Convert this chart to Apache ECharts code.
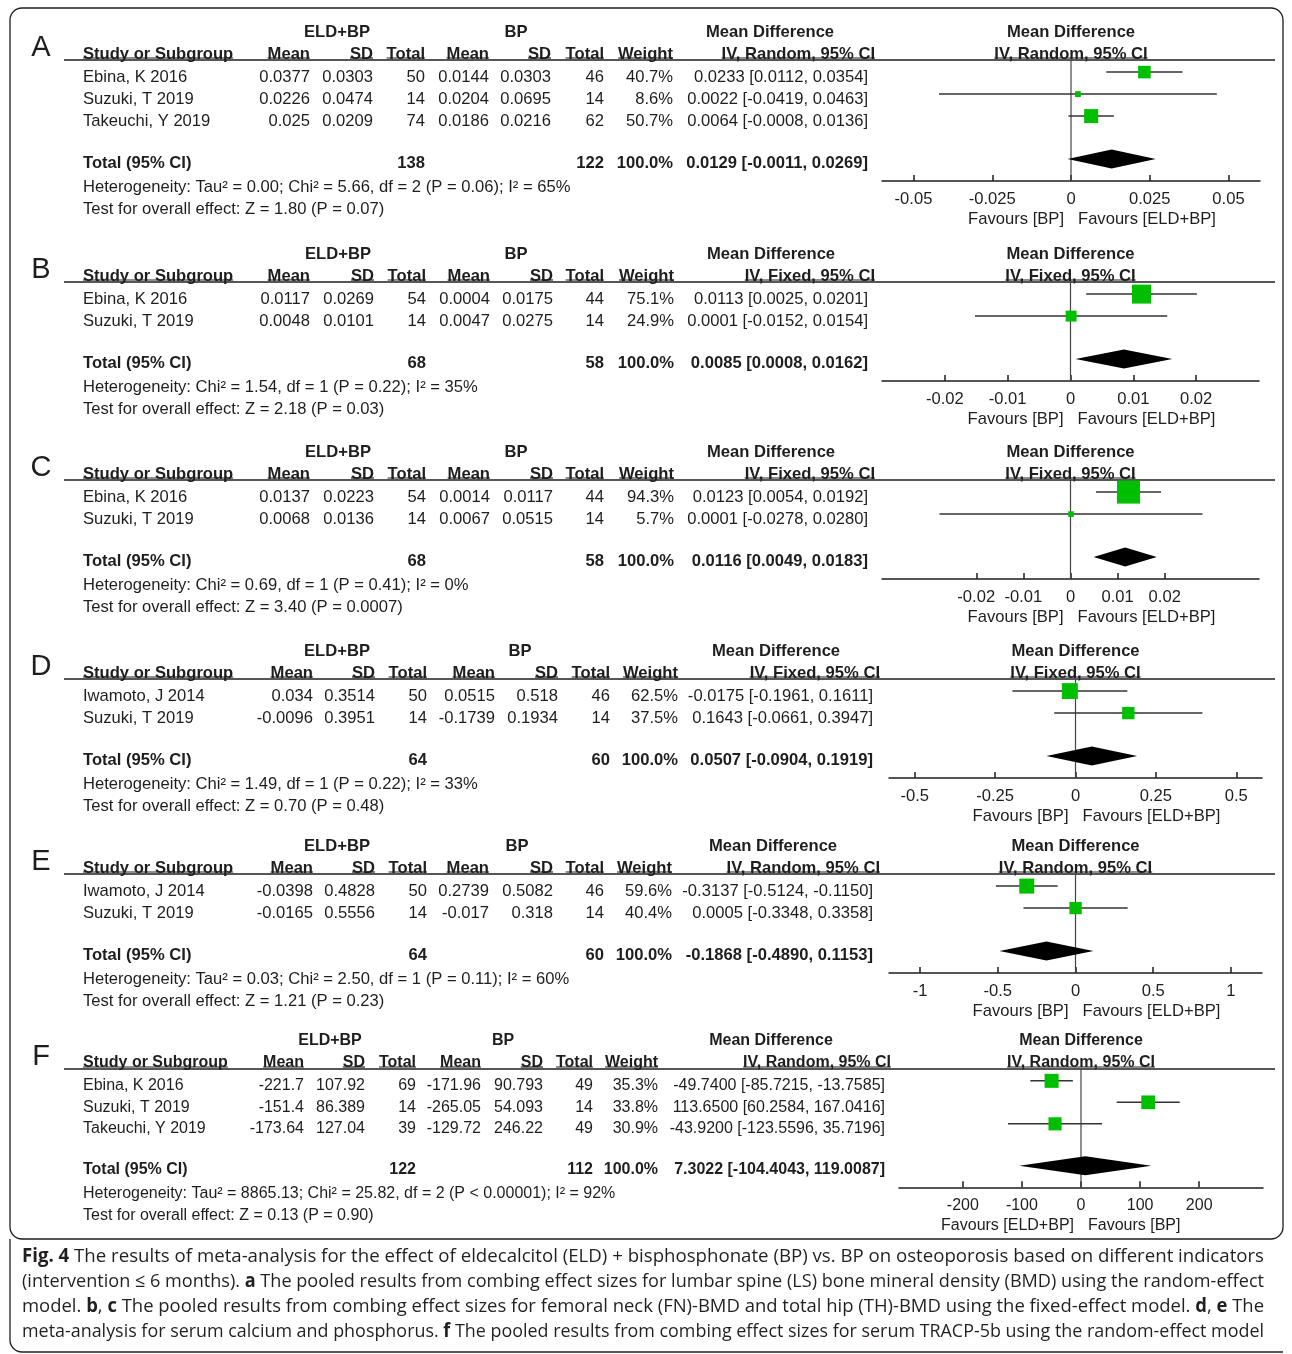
<!DOCTYPE html>
<html>
<head>
<meta charset="utf-8">
<title>Fig. 4 forest plots</title>
<script src="https://cdn.jsdelivr.net/npm/echarts@6/dist/echarts.min.js"></script>
<style>
  html, body { margin: 0; padding: 0; background: #fff; }
  #chart { width: 1292px; height: 1354px; }
</style>
</head>
<body>
<div id="chart"></div>
<script>
// row: study, ELD+BP mean, sd, total, BP mean, sd, total, weight %, MD, CI low, CI high
const rowsA = [
  ['Ebina, K 2016', 0.0377, 0.0303, 50, 0.0144, 0.0303, 46, 40.7, 0.0233, 0.0112, 0.0354],
  ['Suzuki, T 2019', 0.0226, 0.0474, 14, 0.0204, 0.0695, 14, 8.6, 0.0022, -0.0419, 0.0463],
  ['Takeuchi, Y 2019', 0.025, 0.0209, 74, 0.0186, 0.0216, 62, 50.7, 0.0064, -0.0008, 0.0136]
];
const rowsB = [
  ['Ebina, K 2016', 0.0117, 0.0269, 54, 0.0004, 0.0175, 44, 75.1, 0.0113, 0.0025, 0.0201],
  ['Suzuki, T 2019', 0.0048, 0.0101, 14, 0.0047, 0.0275, 14, 24.9, 0.0001, -0.0152, 0.0154]
];
const rowsC = [
  ['Ebina, K 2016', 0.0137, 0.0223, 54, 0.0014, 0.0117, 44, 94.3, 0.0123, 0.0054, 0.0192],
  ['Suzuki, T 2019', 0.0068, 0.0136, 14, 0.0067, 0.0515, 14, 5.7, 0.0001, -0.0278, 0.0280]
];
const rowsD = [
  ['Iwamoto, J 2014', 0.034, 0.3514, 50, 0.0515, 0.518, 46, 62.5, -0.0175, -0.1961, 0.1611],
  ['Suzuki, T 2019', -0.0096, 0.3951, 14, -0.1739, 0.1934, 14, 37.5, 0.1643, -0.0661, 0.3947]
];
const rowsE = [
  ['Iwamoto, J 2014', -0.0398, 0.4828, 50, 0.2739, 0.5082, 46, 59.6, -0.3137, -0.5124, -0.1150],
  ['Suzuki, T 2019', -0.0165, 0.5556, 14, -0.017, 0.318, 14, 40.4, 0.0005, -0.3348, 0.3358]
];
const rowsF = [
  ['Ebina, K 2016', -221.7, 107.92, 69, -171.96, 90.793, 49, 35.3, -49.74, -85.7215, -13.7585],
  ['Suzuki, T 2019', -151.4, 86.389, 14, -265.05, 54.093, 14, 33.8, 113.65, 60.2584, 167.0416],
  ['Takeuchi, Y 2019', -173.64, 127.04, 39, -129.72, 246.22, 49, 30.9, -43.92, -123.5596, 35.7196]
];

// total: ELD+BP n, BP n, pooled MD, CI low, CI high
const totalA = [138, 122, 0.0129, -0.0011, 0.0269];
const totalB = [68, 58, 0.0085, 0.0008, 0.0162];
const totalC = [68, 58, 0.0116, 0.0049, 0.0183];
const totalD = [64, 60, 0.0507, -0.0904, 0.1919];
const totalE = [64, 60, -0.1868, -0.4890, 0.1153];
const totalF = [122, 112, 7.3022, -104.4043, 119.0087];

const hetText = [
  'Heterogeneity: Tau² = 0.00; Chi² = 5.66, df = 2 (P = 0.06); I² = 65%',
  'Heterogeneity: Chi² = 1.54, df = 1 (P = 0.22); I² = 35%',
  'Heterogeneity: Chi² = 0.69, df = 1 (P = 0.41); I² = 0%',
  'Heterogeneity: Chi² = 1.49, df = 1 (P = 0.22); I² = 33%',
  'Heterogeneity: Tau² = 0.03; Chi² = 2.50, df = 1 (P = 0.11); I² = 60%',
  'Heterogeneity: Tau² = 8865.13; Chi² = 25.82, df = 2 (P < 0.00001); I² = 92%'
];
const testText = [
  'Test for overall effect: Z = 1.80 (P = 0.07)',
  'Test for overall effect: Z = 2.18 (P = 0.03)',
  'Test for overall effect: Z = 3.40 (P = 0.0007)',
  'Test for overall effect: Z = 0.70 (P = 0.48)',
  'Test for overall effect: Z = 1.21 (P = 0.23)',
  'Test for overall effect: Z = 0.13 (P = 0.90)'
];
const methods = ['IV, Random, 95% CI', 'IV, Fixed, 95% CI', 'IV, Fixed, 95% CI', 'IV, Fixed, 95% CI', 'IV, Random, 95% CI', 'IV, Random, 95% CI'];
const favours = [
  ['Favours [BP]', 'Favours [ELD+BP]'], ['Favours [BP]', 'Favours [ELD+BP]'], ['Favours [BP]', 'Favours [ELD+BP]'],
  ['Favours [BP]', 'Favours [ELD+BP]'], ['Favours [BP]', 'Favours [ELD+BP]'], ['Favours [ELD+BP]', 'Favours [BP]']
];
const letters = ['A', 'B', 'C', 'D', 'E', 'F'];

const ticksA = [-0.05, -0.025, 0, 0.025, 0.05];
const ticksB = [-0.02, -0.01, 0, 0.01, 0.02];
const ticksC = [-0.02, -0.01, 0, 0.01, 0.02];
const ticksD = [-0.5, -0.25, 0, 0.25, 0.5];
const ticksE = [-1, -0.5, 0, 0.5, 1];
const ticksF = [-200, -100, 0, 100, 200];

const captionLines = [
  [['Fig. 4', 1], [' The results of meta-analysis for the effect of eldecalcitol (ELD) + bisphosphonate (BP) vs. BP on osteoporosis based on different indicators', 0]],
  [['(intervention ≤ 6 months). ', 0], ['a', 1], [' The pooled results from combing effect sizes for lumbar spine (LS) bone mineral density (BMD) using the random-effect', 0]],
  [['model. ', 0], ['b', 1], [', ', 0], ['c', 1], [' The pooled results from combing effect sizes for femoral neck (FN)-BMD and total hip (TH)-BMD using the fixed-effect model. ', 0], ['d', 1], [', ', 0], ['e', 1], [' The', 0]],
  [['meta-analysis for serum calcium and phosphorus. ', 0], ['f', 1], [' The pooled results from combing effect sizes for serum TRACP-5b using the random-effect model', 0]]
];

// page layout for each panel
const layout = [
  { rows: rowsA, total: totalA, ticks: ticksA, y0: 60, rowH: 22, fs: 16.6, cols: [310, 373, 425, 489, 551, 604, 673], mdHead: 875, mdVal: 868, eldX: 337, bpX: 516, mdX: 770, left: 882, right: 1260, range: 0.06, k: 1.97 },
  { rows: rowsB, total: totalB, ticks: ticksB, y0: 282, rowH: 22, fs: 16.6, cols: [310, 374, 426, 490, 553, 604, 674], mdHead: 875, mdVal: 868, eldX: 338, bpX: 516, mdX: 771, left: 882, right: 1259, range: 0.03, k: 2.19 },
  { rows: rowsC, total: totalC, ticks: ticksC, y0: 480, rowH: 22, fs: 16.6, cols: [310, 374, 426, 490, 553, 604, 674], mdHead: 875, mdVal: 868, eldX: 338, bpX: 516, mdX: 771, left: 882, right: 1259, range: 0.04, k: 2.37 },
  { rows: rowsD, total: totalD, ticks: ticksD, y0: 679, rowH: 22, fs: 16.6, cols: [313, 375, 427, 495, 558, 610, 678], mdHead: 880, mdVal: 873, eldX: 337, bpX: 520, mdX: 776, left: 889, right: 1262, range: 0.58, k: 2.02 },
  { rows: rowsE, total: totalE, ticks: ticksE, y0: 874, rowH: 22, fs: 16.6, cols: [313, 375, 427, 489, 553, 604, 672], mdHead: 880, mdVal: 873, eldX: 337, bpX: 517, mdX: 773, left: 889, right: 1262, range: 1.2, k: 1.94 },
  { rows: rowsF, total: totalF, ticks: ticksF, y0: 1069, rowH: 21.5, fs: 16.0, cols: [304, 365, 416, 481, 543, 593, 658], mdHead: 891, mdVal: 885, eldX: 330, bpX: 503, mdX: 771, left: 899, right: 1263, range: 308, k: 2.36 }
];

const FONT = '"Liberation Sans", Arial, Helvetica, sans-serif';
const CAP_FONT = '"Open Sans", "Noto Sans", sans-serif';
const INK = '#1e1e1e';
const GREEN = '#00bf00';

const measureCtx = document.createElement('canvas').getContext('2d');
function textWidth(s, font) {
  measureCtx.font = font;
  return measureCtx.measureText(s).width;
}
function fontOf(fs, bold) {
  return (bold ? 'bold ' : '') + fs + 'px ' + FONT;
}
function fmtCI(md, lo, hi) {
  return md.toFixed(4) + ' [' + lo.toFixed(4) + ', ' + hi.toFixed(4) + ']';
}

const elements = [];
function addText(x, y, text, fs, bold, align) {
  elements.push({
    type: 'text', x: x, y: y + 1, silent: true,
    style: {
      text: text, fill: INK, font: fontOf(fs, bold),
      align: align || 'left', verticalAlign: 'middle',
      textAlign: align || 'left', textVerticalAlign: 'middle'
    }
  });
}
function addLine(x1, y1, x2, y2, w) {
  elements.push({
    type: 'line', silent: true,
    shape: { x1: x1, y1: y1, x2: x2, y2: y2 },
    style: { stroke: INK, lineWidth: w || 1 }
  });
}
function addHeader(x, y, text, fs, align, lineY) {
  addText(x, y, text, fs, true, align);
  const w = textWidth(text, fontOf(fs, true));
  let x1 = x;
  if (align === 'right') x1 = x - w;
  if (align === 'center') x1 = x - w / 2;
  addLine(x1, lineY, x1 + w, lineY, 1.2);
}

const grids = [], xAxes = [], yAxes = [], series = [];

function studyItem(k) {
  return function (params, api) {
    const y = api.value(1);
    const a = api.coord([api.value(2), y]);
    const b = api.coord([api.value(3), y]);
    const c = api.coord([api.value(0), y]);
    const s = Math.max(4, k * Math.sqrt(api.value(4)));
    return {
      type: 'group',
      children: [
        { type: 'line', shape: { x1: a[0], y1: a[1], x2: b[0], y2: b[1] }, style: { stroke: '#333', lineWidth: 1.5 } },
        { type: 'rect', shape: { x: c[0] - s / 2, y: c[1] - s / 2, width: s, height: s }, style: { fill: GREEN } }
      ]
    };
  };
}
function diamondItem(params, api) {
  const y = api.value(1);
  const m = api.coord([api.value(0), y]);
  const l = api.coord([api.value(2), y]);
  const r = api.coord([api.value(3), y]);
  const h = 9.5;
  return {
    type: 'polygon',
    shape: { points: [[l[0], m[1]], [m[0], m[1] - h], [r[0], m[1]], [m[0], m[1] + h]] },
    style: { fill: '#000' }
  };
}
function zeroItem(params, api) {
  const a = api.coord([0, api.value(1)]);
  const b = api.coord([0, api.value(2)]);
  return { type: 'line', shape: { x1: a[0], y1: a[1], x2: b[0], y2: b[1] }, style: { stroke: '#444', lineWidth: 1.2 } };
}

layout.forEach(function (p, idx) {
  const n = p.rows.length;
  const fs = p.fs;
  const axisY = p.y0 + p.rowH * (n + 2.5);
  const zeroX = (p.left + p.right) / 2;
  const rowY = function (v) { return p.y0 + (v + 0.55) * p.rowH; };

  // panel letter and header
  addText(41, p.y0 - 13, letters[idx], 29, false, 'center');
  addText(p.eldX, p.y0 - 29, 'ELD+BP', fs, true, 'center');
  addText(p.bpX, p.y0 - 29, 'BP', fs, true, 'center');
  addText(p.mdX, p.y0 - 29, 'Mean Difference', fs, true, 'center');
  addText(zeroX, p.y0 - 29, 'Mean Difference', fs, true, 'center');

  const hy = p.y0 - 7, uy = p.y0 - 2;
  addHeader(83, hy, 'Study or Subgroup', fs, 'left', uy);
  ['Mean', 'SD', 'Total', 'Mean', 'SD', 'Total', 'Weight'].forEach(function (h, j) {
    addHeader(p.cols[j], hy, h, fs, 'right', uy);
  });
  addHeader(p.mdHead, hy, methods[idx], fs, 'right', uy);
  addHeader(zeroX, hy, methods[idx], fs, 'center', uy);
  addLine(64, p.y0, 1275, p.y0, 1.5);

  // study rows
  p.rows.forEach(function (r, i) {
    const ty = rowY(i) + 4;
    addText(83, ty, r[0], fs, false, 'left');
    for (let j = 1; j <= 6; j++) addText(p.cols[j - 1], ty, String(r[j]), fs, false, 'right');
    addText(p.cols[6], ty, r[7].toFixed(1) + '%', fs, false, 'right');
    addText(p.mdVal, ty, fmtCI(r[8], r[9], r[10]), fs, false, 'right');
  });

  // total row
  const t = p.total;
  const totY = rowY(n + 0.95) + 3;
  addText(83, totY, 'Total (95% CI)', fs, true, 'left');
  addText(p.cols[2], totY, String(t[0]), fs, true, 'right');
  addText(p.cols[5], totY, String(t[1]), fs, true, 'right');
  addText(p.cols[6], totY, '100.0%', fs, true, 'right');
  addText(p.mdVal, totY, fmtCI(t[2], t[3], t[4]), fs, true, 'right');
  addText(83, axisY + 5, hetText[idx], fs, false, 'left');
  addText(83, axisY + 27, testText[idx], fs, false, 'left');

  // favours labels
  addText(zeroX - 7, axisY + 37, favours[idx][0], fs, false, 'right');
  addText(zeroX + 7, axisY + 37, favours[idx][1], fs, false, 'left');

  // forest plot
  grids.push({ left: p.left, width: p.right - p.left, top: p.y0, height: axisY - p.y0 });
  xAxes.push({
    gridIndex: idx, type: 'value', min: -p.range, max: p.range,
    axisLine: { show: true, onZero: false, lineStyle: { color: INK, width: 1.5 } },
    axisTick: { show: true, inside: true, length: 6, customValues: p.ticks, lineStyle: { color: INK, width: 1.5 } },
    axisLabel: { customValues: p.ticks, fontSize: fs, fontFamily: FONT, color: INK, margin: 10 },
    splitLine: { show: false }
  });
  yAxes.push({ gridIndex: idx, type: 'value', inverse: true, min: -0.55, max: n + 1.95, show: false });

  series.push({
    type: 'custom', xAxisIndex: idx, yAxisIndex: idx, silent: true,
    data: [[0, -0.55, n + 1.95]], renderItem: zeroItem
  });
  series.push({
    type: 'custom', xAxisIndex: idx, yAxisIndex: idx, silent: true,
    data: p.rows.map(function (r, i) { return [r[8], i, r[9], r[10], r[7]]; }),
    renderItem: studyItem(p.k)
  });
  series.push({
    type: 'custom', xAxisIndex: idx, yAxisIndex: idx, silent: true,
    data: [[t[2], n + 0.95, t[3], t[4]]], renderItem: diamondItem
  });
});

// frame and caption
elements.push({
  type: 'rect', silent: true,
  shape: { x: 10, y: 8, width: 1273, height: 1231, r: 12 },
  style: { fill: 'none', stroke: INK, lineWidth: 1.3 }
});
addLine(10, 1239, 10, 1340, 1.3);
elements.push({
  type: 'arc', silent: true,
  shape: { cx: 22, cy: 1340, r: 12, startAngle: Math.PI / 2, endAngle: Math.PI, clockwise: true },
  style: { fill: 'none', stroke: INK, lineWidth: 1.3 }
});
addLine(22, 1352, 1283, 1352, 1.3);

const capSize = 19;
captionLines.forEach(function (segs, i) {
  let str = '', w = 0;
  segs.forEach(function (s) {
    str += '{' + (s[1] ? 'b' : 'n') + '|' + s[0] + '}';
    w += textWidth(s[0], (s[1] ? 'bold ' : '') + capSize + 'px ' + CAP_FONT);
  });
  elements.push({
    type: 'text', x: 22, y: 1257 + i * 25, scaleX: 1242 / w, silent: true,
    style: {
      text: str, align: 'left', verticalAlign: 'middle', textAlign: 'left', textVerticalAlign: 'middle',
      fill: '#231f20', font: capSize + 'px ' + CAP_FONT,
      rich: {
        n: { fill: '#231f20', fontSize: capSize, fontFamily: CAP_FONT, fontWeight: 'normal' },
        b: { fill: '#231f20', fontSize: capSize, fontFamily: CAP_FONT, fontWeight: 'bold' }
      }
    }
  });
});

const chart = echarts.init(document.getElementById('chart'));
chart.setOption({
  animation: false,
  backgroundColor: '#fff',
  grid: grids,
  xAxis: xAxes,
  yAxis: yAxes,
  series: series,
  graphic: { elements: elements }
});
</script>
</body>
</html>
